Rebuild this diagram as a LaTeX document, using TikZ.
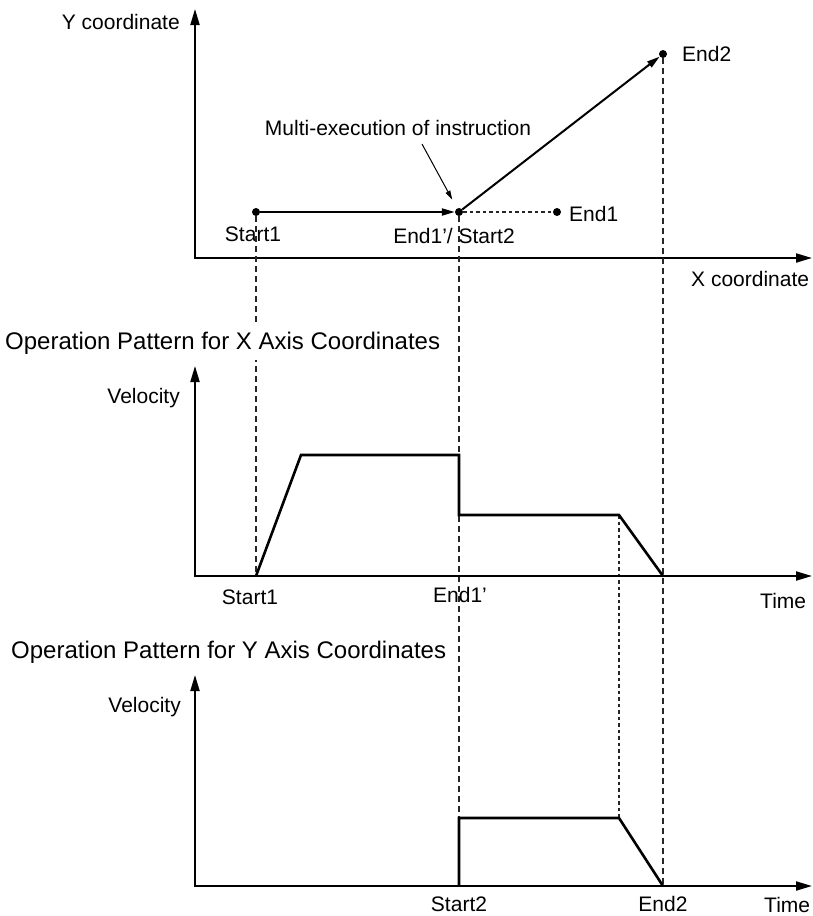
\documentclass[tikz,border=0pt]{standalone}
\usepackage{fontspec}
\setmainfont{Liberation Sans}
\usetikzlibrary{arrows.meta}

\begin{document}
\begin{tikzpicture}[x=1pt,y=-1pt,
  axis/.style={line width=2pt,line join=miter,{Triangle[length=16pt,width=9pt]}-{Triangle[length=16pt,width=9pt]}},
  move/.style={line width=2pt,-{Triangle[length=13pt,width=7pt]}},
  pointer/.style={line width=1pt,-{Triangle[length=9pt,width=5pt]},shorten >=10pt},
  profile/.style={line width=2.6pt,line join=miter},
  guide/.style={line width=1.2pt,black!85,dash pattern=on 6pt off 4pt},
  fineguide/.style={line width=1.2pt,black!85,dash pattern=on 3.5pt off 3pt},
  dot/.style={circle,fill,inner sep=0pt,minimum size=8pt},
  lbl/.style={inner sep=0pt,font=\fontsize{21}{24}\selectfont},
  ttl/.style={inner xsep=0pt,inner ysep=6pt,fill=white,anchor=base west,font=\fontsize{24}{28}\selectfont}]
  \useasboundingbox (0,0) rectangle (813,916);

  % X-Y path
  \coordinate (O1) at (195,258);
  \coordinate (ytip) at (195,9);
  \coordinate (xtip) at (812,258);
  \draw[axis] (ytip) -- (O1) -- (xtip);
  \node[dot] (s1) at (256,212) {};
  \node[dot] (e1p) at (459,212) {};
  \node[dot] (e1) at (557,212) {};
  \node[dot] (e2) at (663,54) {};
  \draw[move] (s1) -- (e1p);
  \draw[move] (e1p) -- (e2);
  \draw[fineguide] (e1p) -- (e1);
  \coordinate (ptail) at (422,144);
  \draw[pointer] (ptail) -- (e1p);
  \node[lbl,anchor=base east] (ylbl) at (180,29) {Y coordinate};
  \node[lbl,anchor=base west] (xlbl) at (691,286) {X coordinate};
  \node[lbl,anchor=base] (multi) at (398,135) {Multi-execution of instruction};
  \node[lbl,anchor=base] (s1lbl) at (253,241) {Start1};
  \node[lbl,anchor=base] (e1plbl) at (454,243) {End1'/ Start2};
  \node[lbl,anchor=base west] (e1lbl) at (569,221) {End1};
  \node[lbl,anchor=base west] (e2lbl) at (682,61) {End2};

  % profile points
  \coordinate (O2) at (195,576);
  \coordinate (x1) at (256,576);
  \coordinate (x2) at (301,455);
  \coordinate (x3) at (459,455);
  \coordinate (x4) at (459,515);
  \coordinate (x5) at (619,515);
  \coordinate (x6) at (663,576);
  \coordinate (O3) at (195,886);
  \coordinate (y1) at (459,886);
  \coordinate (y2) at (459,818);
  \coordinate (y3) at (619,818);
  \coordinate (y4) at (663,886);

  % guides
  \draw[guide] (s1) -- (x1);
  \draw[guide] (e1p) -- (y1);
  \draw[guide] (e2) -- (y4);
  \draw[fineguide] (x5) -- (y3);

  % X axis velocity
  \node[ttl] (xttl) at (5,349) {Operation Pattern for X Axis Coordinates};
  \coordinate (vtip2) at (195,366);
  \coordinate (ttip2) at (812,576);
  \draw[axis] (vtip2) -- (O2) -- (ttip2);
  \draw[profile] (x1) -- (x2) -- (x3) -- (x4) -- (x5) -- (x6);
  \node[lbl,anchor=base east] (v2lbl) at (180,403) {Velocity};
  \node[lbl,anchor=base west] (t2lbl) at (760,608) {Time};
  \node[lbl,anchor=base] (s1lbl2) at (250,604) {Start1};
  \node[lbl,anchor=base] (e1plbl2) at (460,602) {End1'};

  % Y axis velocity
  \node[ttl] (yttl) at (11,658) {Operation Pattern for Y Axis Coordinates};
  \coordinate (vtip3) at (195,675);
  \coordinate (ttip3) at (812,886);
  \draw[axis] (vtip3) -- (O3) -- (ttip3);
  \draw[profile] (y1) -- (y2) -- (y3) -- (y4);
  \node[lbl,anchor=base east] (v3lbl) at (181,712) {Velocity};
  \node[lbl,anchor=base west] (t3lbl) at (764,912) {Time};
  \node[lbl,anchor=base] (s2lbl) at (459,911) {Start2};
  \node[lbl,anchor=base] (e2lbl2) at (663,911) {End2};
\end{tikzpicture}
\end{document}
